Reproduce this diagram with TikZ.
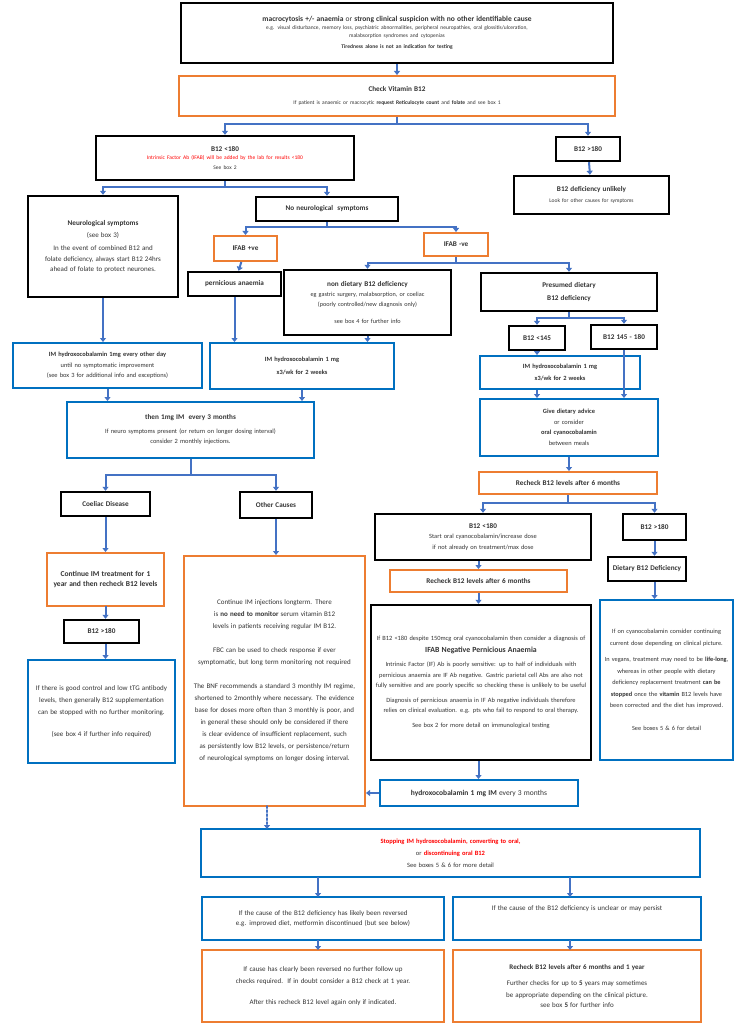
\documentclass[tikz,border=0pt]{standalone}
\usepackage{fontspec}
\setmainfont{Carlito}
\usetikzlibrary{arrows.meta}
\definecolor{bor}{HTML}{ED7D31}
\definecolor{bbl}{HTML}{0070C0}
\definecolor{arr}{HTML}{4472C4}
\definecolor{txt}{HTML}{333333}
\newcommand{\mybox}[7]{%
 \pgfmathsetlengthmacro\bw{#5-#3}\pgfmathsetlengthmacro\bh{#6-#4}\pgfmathsetlengthmacro\tw{#5-#3-8}%
 \node[#1, minimum width=\bw, minimum height=\bh, text width=\tw] (#2) at ({(#3+#5)/2},{(#4+#6)/2}) {#7};}
\newcommand{\T}[1]{{\fontsize{7.2}{9}\selectfont\bfseries #1}}
\newcommand{\smtx}{\fontsize{5.5}{7.3}\selectfont}
\newcommand{\lgtx}{\fontsize{7}{12}\selectfont}
\begin{document}
\hyphenpenalty=10000 \exhyphenpenalty=10000
\begin{tikzpicture}[x=1pt,y=-1pt,
 base/.style={inner xsep=4pt,inner ysep=1pt,align=center,font=\fontsize{6.4}{10.5}\selectfont,text=txt,fill=white},
 kb/.style={base,draw=black,line width=2.4pt},
 ob/.style={base,draw=bor,line width=2pt},
 bb/.style={base,draw=bbl,line width=2pt},
 ar/.style={draw=arr,line width=2pt,-{Triangle[width=6pt,length=4pt]}},
 ln/.style={draw=arr,line width=2pt}]
\useasboundingbox (0,0) rectangle (734,1024);
\fill[white] (0,0) rectangle (734,1024);
\mybox{kb}{top}{181}{3}{613}{63}{{\fontsize{7.5}{9.5}\selectfont\bfseries macrocytosis +/- anaemia \mdseries or \bfseries strong clinical suspicion with no other identifiable cause}\\[1pt]\smtx e.g. visual disturbance, memory loss, psychiatric abnormalities, peripheral neuropathies, oral glossitis/ulceration,\\malabsorption syndromes and cytopenias\\[1pt]\textbf{Tiredness alone is not an indication for testing}}
\mybox{ob}{chk}{179}{76}{615}{116}{\T{Check Vitamin B12}\\[3pt]\smtx If patient is anaemic or macrocytic \textbf{request Reticulocyte count} and \textbf{folate} and see box 1}
\mybox{kb}{lo}{96}{136}{354}{180}{\T{B12 <180}\\[1pt]\smtx\textcolor{red}{Intrinsic Factor Ab (IFAB) will be added by the lab for results <180}\\See box 2}
\mybox{kb}{hi}{556}{137}{620}{161}{\T{B12 >180}}
\mybox{kb}{unl}{514}{176}{669}{214}{\T{B12 deficiency unlikely}\\\smtx Look for other causes for symptoms}
\mybox{kb}{neu}{28}{196}{178}{297}{\T{Neurological symptoms}\\\lgtx(see box 3)\\[3pt]In the event of combined B12 and folate deficiency, always start B12 24hrs ahead of folate to protect neurones.}
\mybox{kb}{non}{256}{197}{398}{221}{\T{No neurological\ \ symptoms}}
\mybox{ob}{ipos}{214}{236}{277}{261}{\T{IFAB +ve}}
\mybox{ob}{ineg}{424}{233}{488}{256}{\T{IFAB -ve}}
\mybox{kb}{pern}{188}{272}{281}{296}{\T{pernicious anaemia}}
\mybox{kb}{nond}{284}{270}{451}{335}{\T{non dietary B12 deficiency}\\\fontsize{6.2}{10}\selectfont eg gastric surgery, malabsorption, or coeliac (poorly controlled/new diagnosis only)\\[7pt]see box 4 for further info}
\mybox{kb}{pres}{481}{273}{657}{311}{\T{Presumed dietary\\[3pt]B12 deficiency}}
\mybox{kb}{l145}{509}{326}{565}{350}{\T{B12 <145}}
\mybox{kb}{m145}{591}{325}{657}{349}{\T{B12 145 - 180}}
\mybox{bb}{eod}{13}{343}{202}{388}{\textbf{IM hydroxocobalamin 1mg every other day}\\until no symptomatic improvement\\(see box 3 for additional info and exceptions)}
\mybox{bb}{imm}{210}{343}{394}{389}{\textbf{IM hydroxocobalamin 1 mg}\\[2pt]\textbf{x3/wk for 2 weeks}}
\mybox{bb}{imr}{480}{356}{640}{389}{\textbf{IM hydroxocobalamin 1 mg}\\[1pt]\textbf{x3/wk for 2 weeks}}
\mybox{bb}{diet}{480}{399}{658}{456}{\textbf{Give dietary advice}\\or consider\\\textbf{oral cyanocobalamin}\\between meals}
\mybox{bb}{then}{67}{402}{314}{458}{\T{then 1mg IM\ \ every 3 months}\\[3pt]If neuro symptoms present (or return on longer dosing interval)\\consider 2 monthly injections.}
\mybox{ob}{rc1}{479}{472}{657}{494}{\T{Recheck B12 levels after 6 months}}
\mybox{kb}{coel}{61}{492}{150}{516}{\T{Coeliac Disease}}
\mybox{kb}{oth}{240}{492}{312}{518}{\T{Other Causes}}
\mybox{kb}{lo2}{375}{514}{591}{560}{\T{B12 <180}\\Start oral cyanocobalamin/increase dose if not already on treatment/max dose}
\mybox{kb}{hi2}{623}{514}{686}{540}{\T{B12 >180}}
\mybox{ob}{rc2}{390}{570}{567}{592}{\T{Recheck B12 levels after 6 months}}
\mybox{kb}{dd}{608}{557}{686}{581}{\T{Dietary B12 Deficiency}}
\mybox{ob}{cont}{47}{553}{164}{606}{{\fontsize{7.5}{13}\selectfont\bfseries Continue IM treatment for 1 year and then recheck B12 levels}}
\mybox{ob}{big}{184}{556}{365}{806}{\lgtx Continue IM injections longterm. There is \textbf{no need to monitor} serum vitamin B12 levels in patients receiving regular IM B12.\\[12pt]FBC can be used to check response if ever symptomatic, but long term monitoring not required\\[12pt]The BNF recommends a standard 3 monthly IM regime, shortened to 2monthly where necessary. The evidence base for doses more often than 3 monthly is poor, and in general these should only be considered if there is clear evidence of insufficient replacement, such as persistently low B12 levels, or persistence/return of neurological symptoms on longer dosing interval.\\[14pt]}
\mybox{kb}{hi3}{64}{620}{139}{643}{\T{B12 >180}}
\mybox{bb}{ttg}{28}{660}{175}{763}{\lgtx If there is good control and low tTG antibody levels, then generally B12 supplementation can be stopped with no further monitoring.\\[12pt](see box 4 if further info required)}
\mybox{kb}{pa}{371}{605}{591}{760}{If B12 <180 despite 150mcg oral cyanocobalamin then consider a diagnosis of\\[1pt]{\fontsize{7.8}{9}\selectfont\bfseries IFAB Negative Pernicious Anaemia}\\[4pt]Intrinsic Factor (IF) Ab is poorly sensitive: up to half of individuals with pernicious anaemia are IF Ab negative. Gastric parietal cell Abs are also not fully sensitive and are poorly specific so checking these is unlikely to be useful\\[4pt]Diagnosis of pernicious anaemia in IF Ab negative individuals therefore relies on clinical evaluation. e.g. pts who fail to respond to oral therapy.\\[4pt]See box 2 for more detail on immunological testing}
\mybox{bb}{cy}{600}{600}{733}{760}{\fontsize{6.3}{11.5}\selectfont If on cyanocobalamin consider continuing current dose depending on clinical picture.\\[5pt]In vegans, treatment may need to be \textbf{life-long}, whereas in other people with dietary deficiency replacement treatment \textbf{can be stopped} once the \textbf{vitamin} B12 levels have been corrected and the diet has improved.\\[12pt]See boxes 5 \& 6 for detail}
\mybox{bb}{hyd}{380}{780}{578}{806}{{\fontsize{7.5}{8}\selectfont\textbf{hydroxocobalamin 1 mg IM} every 3 months}}
\mybox{bb}{stop}{201}{829}{700}{877}{\fontsize{6.5}{10}\selectfont\textcolor{red}{\textbf{Stopping IM hydroxocobalamin, converting to oral,}}\\[2pt]or \textcolor{red}{\textbf{discontinuing oral B12}}\\[1pt]See boxes 5 \& 6 for more detail}
\mybox{bb}{rev}{202}{897}{444}{940}{\lgtx If the cause of the B12 deficiency has likely been reversed e.g. improved diet, metformin discontinued (but see below)}
\mybox{bb}{unc}{453}{897}{701}{940}{\lgtx If the cause of the B12 deficiency is unclear or may persist\\[10pt]\mbox{}}
\mybox{ob}{bl}{202}{950}{444}{1022}{\lgtx If cause has clearly been reversed no further follow up checks required.\ \ If in doubt consider a B12 check at 1 year.\\[10pt]After this recheck B12 level again only if indicated.}
\mybox{ob}{br}{453}{950}{701}{1022}{\lgtx\textbf{Recheck B12 levels after 6 months and 1 year}\\[4pt]Further checks for up to \textbf{5} years may sometimes be appropriate depending on the clinical picture.\\see box \textbf{5} for further info}
% connectors
\draw[ar] (top) -- (chk);
\draw[ar] (chk.south) -- (chk.south|-0,124) -| (lo.north);
\draw[ar] (chk.south) -- (chk.south|-0,124) -| (hi.north);
\draw[ar] (hi) -- (unl);
\draw[ar] (lo.south) -- (lo.south|-0,187) -| (neu.north);
\draw[ar] (lo.south) -- (lo.south|-0,187) -| (non.north);
\draw[ar] (non.south) -- (non.south|-0,227) -| (ipos.north);
\draw[ar] (non.south) -- (non.south|-0,227) -| (ineg.north);
\draw[ar] (ipos) -- (pern);
\draw[ar] (ineg.south) -- (ineg.south|-0,263) -| (nond.north);
\draw[ar] (ineg.south) -- (ineg.south|-0,263) -| (pres.north);
\draw[ar] (neu.south) -- (neu.south|-eod.north);
\draw[ar] (pern.south) -- (pern.south|-imm.north);
\draw[ar] (nond.south) -- (nond.south|-imm.north);
\draw[ar] (pres.south) -- (pres.south|-0,318) -| (l145.north);
\draw[ar] (pres.south) -- (pres.south|-0,318) -| (m145.north);
\draw[ar] (l145.south) -- (l145.south|-imr.north);
\draw[ar] (l145.south|-imr.south) -- (l145.south|-diet.north);
\draw[ar] (m145.south) -- (m145.south|-diet.north);
\draw[ar] (eod.south) -- (eod.south|-then.north);
\draw[ar] (imm.south) -- (imm.south|-then.north);
\draw[ar] (diet) -- (diet.south|-rc1.north);
\draw[ar] (then.south) -- (then.south|-0,475) -| (coel.north);
\draw[ar] (then.south) -- (then.south|-0,475) -| (oth.north);
\draw[ar] (coel) -- (coel.south|-cont.north);
\draw[ar] (cont.south|-0,606) -- (cont.south|-hi3.north);
\draw[ar] (cont.south|-hi3.south) -- (cont.south|-ttg.north);
\draw[ar] (oth) -- (oth.south|-big.north);
\draw[ar] (rc1.south) -- (rc1.south|-0,503) -| (lo2.north);
\draw[ar] (rc1.south) -- (rc1.south|-0,503) -| (hi2.north);
\draw[ar] (rc2.north|-lo2.south) -- (rc2.north);
\draw[ar] (rc2.south) -- (rc2.south|-pa.north);
\draw[ar] (rc2.south|-pa.south) -- (rc2.south|-hyd.north);
\draw[ar] (hyd.west) -- (hyd.west-|big.east);
\draw[ar] (hi2) -- (hi2.south|-dd.north);
\draw[ar] (hi2.south|-dd.south) -- (hi2.south|-cy.north);
\draw[ar,dotted,line cap=round] (267,806) -- (267,829);
\draw[ar] (318,877) -- (318,897);
\draw[ar] (570,877) -- (570,897);
\draw[ar] (318,940) -- (318,950);
\draw[ar] (570,940) -- (570,950);
\end{tikzpicture}
\end{document}
